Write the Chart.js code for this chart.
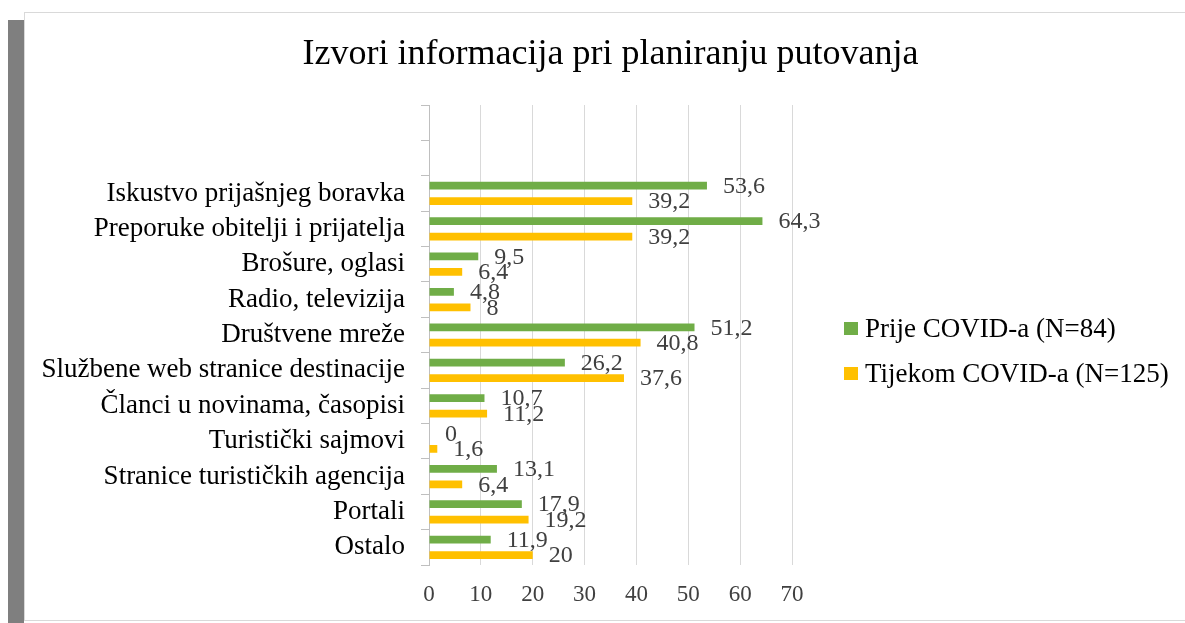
<!DOCTYPE html>
<html>
<head>
<meta charset="utf-8">
<script src="https://cdn.jsdelivr.net/npm/chart.js@4.4.0/dist/chart.umd.min.js"></script>
<style>
    html, body { margin: 0; padding: 0; background: #fff; }
    body { width: 1185px; height: 623px; position: relative; overflow: hidden; }
    #sidebar { position: absolute; left: 8px; top: 20px; width: 16px; height: 603px; background: #7f7f7f; }
    #panel { position: absolute; left: 24px; top: 12px; width: 1200px; height: 607px; border: 1px solid #d9d9d9; background: #fff; }
    #chart { position: absolute; left: 0; top: 0; }
    #legend { position: absolute; left: 844px; top: 306px; font-family: "Liberation Serif", serif; font-size: 27px; color: #000; }
    .item { display: flex; align-items: center; height: 45px; }
    .box { width: 14px; height: 13px; margin-right: 7px; }
</style>
</head>
<body>
<div id="sidebar"></div>
<div id="panel"></div>
<canvas id="chart" width="1185" height="623"></canvas>
<div id="legend"></div>
<script>
// categories (two empty slots at the top, as in the original)
const categories = [
    '', '',
    'Iskustvo prijašnjeg boravka',
    'Preporuke obitelji i prijatelja',
    'Brošure, oglasi',
    'Radio, televizija',
    'Društvene mreže',
    'Službene web stranice destinacije',
    'Članci u novinama, časopisi',
    'Turistički sajmovi',
    'Stranice turističkih agencija',
    'Portali',
    'Ostalo'
];
const prije = [null, null, 53.6, 64.3, 9.5, 4.8, 51.2, 26.2, 10.7, 0, 13.1, 17.9, 11.9];
const tijekom = [null, null, 39.2, 39.2, 6.4, 8, 40.8, 37.6, 11.2, 1.6, 6.4, 19.2, 20];
const seriesNames = ['Prije COVID-a (N=84)', 'Tijekom COVID-a (N=125)'];
const seriesColors = ['#70AD47', '#FFC000'];

const xTicks = [0, 10, 20, 30, 40, 50, 60, 70];
const chartTitle = 'Izvori informacija pri planiranju putovanja';

const SERIF = '"Liberation Serif", "Times New Roman", serif';

// format with a decimal comma
function fmt(v) {
    return String(v).replace('.', ',');
}

// labels at the end of each bar
const barLabels = {
    id: 'barLabels',
    afterDatasetsDraw(chart) {
        const ctx = chart.ctx;
        ctx.save();
        ctx.font = '24px ' + SERIF;
        ctx.fillStyle = '#404040';
        ctx.textAlign = 'left';
        ctx.textBaseline = 'middle';
        chart.data.datasets.forEach((ds, i) => {
            const meta = chart.getDatasetMeta(i);
            meta.data.forEach((bar, j) => {
                const v = ds.data[j];
                if (v === null) return;
                ctx.fillText(fmt(v), bar.x + 16, bar.y + 1);
            });
        });
        ctx.restore();
    }
};

// title centred over the plot area (the built-in one squeezes it to the box width)
const plotTitle = {
    id: 'plotTitle',
    afterDraw(chart) {
        const ctx = chart.ctx;
        const area = chart.chartArea;
        ctx.save();
        ctx.font = '36px ' + SERIF;
        ctx.fillStyle = '#000';
        ctx.textAlign = 'center';
        ctx.textBaseline = 'middle';
        ctx.fillText(chartTitle, (area.left + area.right) / 2, area.top - 50);
        ctx.restore();
    }
};

const chart = new Chart(document.getElementById('chart'), {
    type: 'bar',
    data: {
        labels: categories,
        datasets: [
            { label: seriesNames[0], data: prije, backgroundColor: seriesColors[0] },
            { label: seriesNames[1], data: tijekom, backgroundColor: seriesColors[1] }
        ]
    },
    options: {
        indexAxis: 'y',
        responsive: false,
        animation: false,
        devicePixelRatio: 1,
        categoryPercentage: 0.875,
        barPercentage: 0.5,
        layout: { padding: { left: 0, right: 393, top: 105, bottom: 0 } },
        plugins: {
            legend: { display: false },
            tooltip: { enabled: false },
            title: { display: false }
        },
        scales: {
            x: {
                min: 0,
                max: 70,
                afterBuildTicks: (s) => { s.ticks = xTicks.map(v => ({ value: v })); },
                afterFit: (s) => { s.height = 58; },
                grid: { color: '#d9d9d9', drawTicks: false },
                border: { display: false },
                ticks: { color: '#404040', padding: 16, font: { family: SERIF, size: 23 } }
            },
            y: {
                afterFit: (s) => { s.width = 429; },
                grid: { drawOnChartArea: false, color: '#bfbfbf', tickLength: 8, offset: true },
                border: { color: '#bfbfbf' },
                ticks: { color: '#000', padding: 16, autoSkip: false, font: { family: SERIF, size: 27 } }
            }
        }
    },
    plugins: [barLabels, plotTitle]
});

// legend built from the datasets
const legendEl = document.getElementById('legend');
chart.data.datasets.forEach(ds => {
    const item = document.createElement('div');
    item.className = 'item';
    const box = document.createElement('span');
    box.className = 'box';
    box.style.background = ds.backgroundColor;
    const txt = document.createElement('span');
    txt.textContent = ds.label;
    item.appendChild(box);
    item.appendChild(txt);
    legendEl.appendChild(item);
});
</script>
</body>
</html>
